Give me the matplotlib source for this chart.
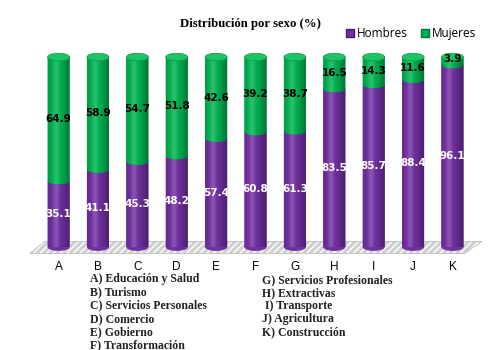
import numpy as np
import matplotlib.pyplot as plt
from matplotlib.patches import Ellipse, Polygon, PathPatch
from matplotlib.path import Path
from matplotlib.lines import Line2D
from matplotlib.colors import to_rgb

# ---- Data ----
letters = ["A", "B", "C", "D", "E", "F", "G", "H", "I", "J", "K"]
hombres = [35.1, 41.1, 45.3, 48.2, 57.4, 60.8, 61.3, 83.5, 85.7, 88.4, 96.1]
mujeres = [64.9, 58.9, 54.7, 51.8, 42.6, 39.2, 38.7, 16.5, 14.3, 11.6, 3.9]
sectores_izq = ["A) Educación y Salud", "B) Turismo", "C) Servicios Personales",
                "D) Comercio", "E) Gobierno", "F) Transformación"]
sectores_der = ["G) Servicios Profesionales", "H) Extractivas", " I) Transporte",
                "J) Agricultura", "K) Construcción"]

purple = "#7030a0"
green = "#00b050"

fig = plt.figure(figsize=(5, 3.5), dpi=100)
ax = fig.add_axes([0.058, 0.294, 0.906, 0.543])

x = np.arange(len(letters))
w = 0.56
eh = 4.0  # ellipse height in data units

# horizontal shading profile for the cylinder look
grad = np.linspace(0, 1, 64)
shade = np.clip(1 - 1.45 * np.abs(grad - 0.35) ** 1.3, 0, 1)


def shaded_img(color):
    rgb = np.array(to_rgb(color))
    cols = []
    for s in shade:
        if s > 0.85:
            c = rgb + (1 - rgb) * (s - 0.85) * 1.2
        else:
            c = rgb * (0.55 + 0.45 * s / 0.85)
        cols.append(c)
    return np.clip(np.array(cols), 0, 1)[None, :, :]


def segment_path(cx, y0, y1):
    # side walls from y1 down to y0, with the front (lower) half ellipse at y0
    t = np.linspace(np.pi, 2 * np.pi, 40)
    xs = cx + w / 2 * np.cos(t)
    ys = y0 + eh / 2 * np.sin(t)
    verts = list(zip(xs, ys)) + [(cx + w / 2, y1), (cx - w / 2, y1), (xs[0], ys[0])]
    codes = [Path.MOVETO] + [Path.LINETO] * (len(verts) - 2) + [Path.CLOSEPOLY]
    return Path(verts, codes)


# ---- Floor ----
floor_pts = [(-0.73, -3.4), (10.3, -3.4), (10.75, 3.0), (-0.35, 3.0)]
ax.add_patch(Polygon(floor_pts, closed=True, facecolor="#d0d0d0", edgecolor="white",
                     hatch="/////", lw=0, zorder=0, clip_on=False))
ax.add_patch(Polygon(floor_pts, closed=True, fill=False, edgecolor="#bfbfbf", lw=0.6,
                     zorder=0.5, clip_on=False))

pimg = shaded_img(purple)
gimg = shaded_img(green)

for i in range(len(letters)):
    h = hombres[i]
    left = x[i] - w / 2
    pp = PathPatch(segment_path(x[i], 0, h), facecolor=purple, lw=0, zorder=2,
                   clip_on=False)
    gp = PathPatch(segment_path(x[i], h, 100), facecolor=green, lw=0, zorder=3,
                   clip_on=False)
    ax.add_patch(pp)
    ax.add_patch(gp)
    im1 = ax.imshow(pimg, extent=(left, left + w, -eh, h), aspect="auto", zorder=2.5)
    im1.set_clip_path(pp)
    im2 = ax.imshow(gimg, extent=(left, left + w, h - eh, 100), aspect="auto", zorder=3.5)
    im2.set_clip_path(gp)
    # top cap
    ax.add_patch(Ellipse((x[i], 100), w, eh, facecolor="#1cc464",
                         edgecolor="#0a9a45", lw=0.5, zorder=4, clip_on=False))
    ax.text(x[i], h / 2, f"{h:.1f}", ha="center", va="center", color="white",
            fontsize=7.5, fontweight="bold", zorder=5)
    ax.text(x[i], h + (100 - h) / 2 if mujeres[i] > 5 else 99, f"{mujeres[i]:.1f}",
            ha="center", va="center", color="black",
            fontsize=7.5, fontweight="bold", zorder=5)

ax.set_xlim(-0.75, 10.75)
ax.set_ylim(0, 100)
ax.set_xticks(x)
ax.set_xticklabels(letters, fontsize=8.5, family="Liberation Sans")
ax.tick_params(axis="x", length=0, pad=10)
ax.set_yticks([])
for s in ax.spines.values():
    s.set_visible(False)

# ---- Title and legend ----
fig.text(0.5, 0.93, "Distribución por sexo (%)", ha="center", va="center",
         fontsize=9.2, fontweight="bold", family="Liberation Serif")
handles = [Line2D([], [], marker="s", ls="", markersize=6, color=purple,
                  markeredgecolor="#4a1a70", label="Hombres"),
           Line2D([], [], marker="s", ls="", markersize=6, color=green,
                  markeredgecolor="#007a38", label="Mujeres")]
fig.legend(handles=handles, loc="center", bbox_to_anchor=(0.82, 0.903), ncol=2,
           frameon=False, prop={"family": "Open Sans", "size": 8.5},
           handletextpad=0.1, columnspacing=0.9, handlelength=1)

# ---- Sector key ----
for j, t in enumerate(sectores_izq):
    fig.text(0.18, 1 - (279 + j * 13.3) / 350, t, ha="left", va="center",
             fontsize=8.5, fontweight="bold", family="Liberation Serif", color="#222222")
for j, t in enumerate(sectores_der):
    fig.text(0.525, 1 - (280 + j * 13.1) / 350, t, ha="left", va="center",
             fontsize=8.5, fontweight="bold", family="Liberation Serif", color="#222222")

fig.savefig("out.png", dpi=100)
